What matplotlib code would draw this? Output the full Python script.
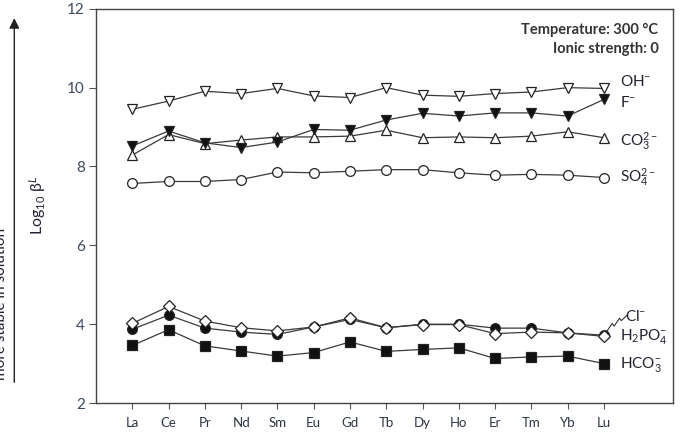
import matplotlib
matplotlib.use("Agg")
import matplotlib.pyplot as plt

plt.rcParams['font.family'] = ['Lato', 'DejaVu Sans']
plt.rcParams['mathtext.fontset'] = 'custom'
plt.rcParams['mathtext.rm'] = 'Lato'
plt.rcParams['mathtext.it'] = 'Lato:italic'
plt.rcParams['mathtext.bf'] = 'Lato:bold'

elements = ["La", "Ce", "Pr", "Nd", "Sm", "Eu", "Gd", "Tb", "Dy", "Ho", "Er", "Tm", "Yb", "Lu"]

oh = [9.45, 9.66, 9.91, 9.85, 9.98, 9.79, 9.75, 10.0, 9.81, 9.78, 9.85, 9.89, 10.0, 9.98]
f = [8.52, 8.90, 8.60, 8.48, 8.62, 8.94, 8.92, 9.18, 9.35, 9.28, 9.36, 9.36, 9.28, 9.70]
co3 = [8.29, 8.81, 8.58, 8.67, 8.75, 8.75, 8.77, 8.92, 8.73, 8.75, 8.73, 8.77, 8.88, 8.73]
so4 = [7.57, 7.62, 7.62, 7.67, 7.86, 7.84, 7.88, 7.92, 7.92, 7.84, 7.78, 7.80, 7.78, 7.72]
cl = [3.87, 4.23, 3.90, 3.80, 3.74, 3.93, 4.12, 3.91, 4.00, 4.00, 3.90, 3.90, 3.78, 3.72]
h2po4 = [4.02, 4.45, 4.08, 3.91, 3.83, 3.93, 4.16, 3.91, 3.99, 3.99, 3.76, 3.80, 3.78, 3.69]
hco3 = [3.46, 3.86, 3.45, 3.32, 3.19, 3.28, 3.55, 3.31, 3.36, 3.40, 3.13, 3.17, 3.19, 3.00]

fig = plt.figure(figsize=(6.81, 4.40), dpi=100)
ax = fig.add_axes([0.141, 0.084, 0.847, 0.896])

x = list(range(len(elements)))
line_kw = dict(color="#3a3a3a", lw=0.9, markeredgecolor="#222222", markeredgewidth=0.9)

ax.plot(x, oh, marker="v", ms=7.5, mfc="white", **line_kw)
ax.plot(x, co3, marker="^", ms=7.5, mfc="white", **line_kw)
ax.plot(x, f, marker="v", ms=7.5, mfc="#111111", **line_kw)
ax.plot(x, so4, marker="o", ms=7, mfc="white", **line_kw)
ax.plot(x, hco3, marker="s", ms=6.5, mfc="#111111", **line_kw)
ax.plot(x, cl, marker="o", ms=7, mfc="#111111", **line_kw)
ax.plot(x, h2po4, marker="D", ms=6.5, mfc="white", **line_kw)

# ion labels
lab_x = 13.45
txt_kw = dict(fontsize=11, color="#222233", ha="left", va="center")
ax.text(lab_x, 10.15, r"OH$^{-}$", **txt_kw)
ax.text(lab_x, 9.62, r"F$^{-}$", **txt_kw)
ax.text(lab_x, 8.65, r"CO$_{3}^{2-}$", **txt_kw)
ax.text(lab_x, 7.72, r"SO$_{4}^{2-}$", **txt_kw)
ax.text(lab_x + 0.12, 4.2, r"Cl$^{-}$", **txt_kw)
ax.text(lab_x, 3.68, r"H$_{2}$PO$_{4}^{-}$", **txt_kw)
ax.text(lab_x, 2.98, r"HCO$_{3}^{-}$", **txt_kw)

# little zigzag leader from the Cl- point to its label
x0, y0 = x[-1] + 0.08, cl[-1] + 0.1
ax.plot([x0, x0 + 0.15, x0 + 0.2, x0 + 0.35, x0 + 0.4, x0 + 0.55],
        [y0, y0 + 0.2, y0 + 0.13, y0 + 0.33, y0 + 0.27, y0 + 0.4],
        color="#333333", lw=0.8, clip_on=False)

ax.text(0.975, 0.965, "Temperature: 300 \u00b0C\nIonic strength: 0",
        transform=ax.transAxes, ha="right", va="top", fontsize=10.5,
        fontweight="bold", color="#333333", linespacing=1.5)

ax.set_xlim(-1, 14.9)
ax.set_ylim(2, 12)
ax.set_xticks(x)
ax.set_xticklabels(elements)
ax.set_yticks([2, 4, 6, 8, 10, 12])
ax.tick_params(axis="x", direction="out", length=4, width=0.8, colors="#555555",
               labelcolor="#2c3545", labelsize=9.5, pad=6)
ax.tick_params(axis="y", direction="out", length=5, width=0.8, colors="#555555",
               labelcolor="#3a4a60", labelsize=11, pad=3)
for s in ax.spines.values():
    s.set_color("#444444")
    s.set_linewidth(1.0)

ax.set_ylabel(r"Log$_{10}$ \u03b2$^{L}$".replace("\\u03b2", "\u03b2"),
              fontsize=11.5, color="#222233", labelpad=14)

# arrow and note on the far left
fig.add_artist(matplotlib.patches.FancyArrowPatch(
    (0.021, 0.125), (0.021, 0.965), transform=fig.transFigure,
    arrowstyle="-|>,head_length=6,head_width=3", color="#222222", lw=1.0))
fig.text(0.002, 0.31, "more stable in solution", rotation=90, ha="center",
         va="center", fontsize=11, color="#222233")

fig.savefig("out.png", dpi=100)
